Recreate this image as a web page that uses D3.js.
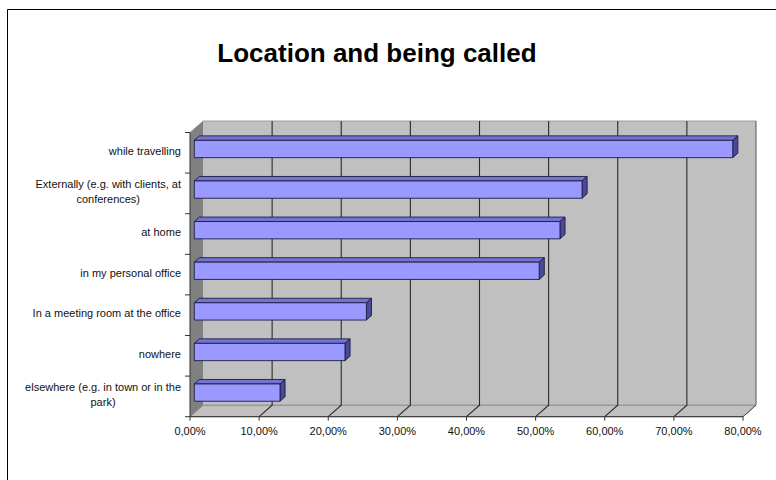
<!DOCTYPE html>
<html>
<head>
<meta charset="utf-8">
<title>Location and being called</title>
<script src="https://cdn.jsdelivr.net/npm/d3@7"></script>
<style>
  html, body { margin: 0; padding: 0; background: #ffffff; }
  svg { display: block; font-family: Arial, "Liberation Sans", sans-serif; }
</style>
</head>
<body>
<div id="chart"></div>
<script>
// data
var categories = [
  "while travelling",
  "Externally (e.g. with clients, at conferences)",
  "at home",
  "in my personal office",
  "In a meeting room at the office",
  "nowhere",
  "elsewhere (e.g. in town or in the park)"
];
var shares = [0.779, 0.561, 0.529, 0.499, 0.249, 0.218, 0.124];
var tickValues = [0, 0.1, 0.2, 0.3, 0.4, 0.5, 0.6, 0.7, 0.8];
var title = "Location and being called";

(function() {
  "use strict";

  var width = 776, height = 480;

  var svg = d3.select("#chart").append("svg")
      .attr("width", width)
      .attr("height", height);

  // outer border (only top and left edges fall inside the window)
  svg.append("path")
      .attr("d", "M7.5," + height + "V9.5H" + width)
      .attr("fill", "none")
      .attr("stroke", "#000");

  svg.append("text")
      .attr("x", 377)
      .attr("y", 62)
      .attr("text-anchor", "middle")
      .attr("font-size", 26)
      .attr("font-weight", "bold")
      .attr("fill", "#000")
      .text(title);

  // front plane scales
  var x = d3.scaleLinear().domain([0, 0.8]).range([190, 743]);
  var y = d3.scaleBand().domain(categories)
      .range([132.5, 416.7])
      .paddingInner(0.574)
      .paddingOuter(0.287);

  var top = y.range()[0], bottom = y.range()[1];
  var dx = 13, dy = -11.5; // depth of the 3d box
  var f0 = 0.33, f1 = 0.72; // bar front / back position within the depth

  function pts(a) { return a.map(function(p) { return p.join(","); }).join(" "); }

  var x0 = x(0), x1 = x(0.8);

  // back wall
  svg.append("rect")
      .attr("x", x0 + dx).attr("y", top + dy)
      .attr("width", x1 - x0).attr("height", bottom - top)
      .attr("fill", "#c0c0c0");

  // left wall
  svg.append("polygon")
      .attr("points", pts([[x0, top], [x0 + dx, top + dy], [x0 + dx, bottom + dy], [x0, bottom]]))
      .attr("fill", "#808080");

  // floor
  svg.append("polygon")
      .attr("points", pts([[x0, bottom], [x1, bottom], [x1 + dx, bottom + dy], [x0 + dx, bottom + dy]]))
      .attr("fill", "#c0c0c0")
      .attr("stroke", "#808080")
      .attr("stroke-width", 1);

  // wall edges
  svg.append("path")
      .attr("d", "M" + x0 + "," + top + "L" + (x0 + dx) + "," + (top + dy) + "H" + (x1 + dx))
      .attr("fill", "none").attr("stroke", "#a0a0a0");
  svg.append("path")
      .attr("d", "M" + (x1 + dx) + "," + (top + dy) + "V" + (bottom + dy) + "L" + x1 + "," + bottom)
      .attr("fill", "none").attr("stroke", "#555");

  // gridlines: up the back wall and across the floor
  svg.append("g").selectAll("path")
      .data(tickValues.slice(1, -1))
      .enter().append("path")
      .attr("d", function(d) {
        return "M" + (x(d) + dx) + "," + (top + dy) + "V" + (bottom + dy) + "L" + x(d) + "," + bottom;
      })
      .attr("fill", "none")
      .attr("stroke", "#2a2a2a")
      .attr("stroke-width", 1.1);

  // axes lines and ticks
  svg.append("path")
      .attr("d", "M" + x0 + "," + top + "V" + bottom + "H" + x1)
      .attr("fill", "none").attr("stroke", "#333");

  var bounds = categories.map(function(c) { return y(c) - y.step() * y.paddingInner() / 2; });
  bounds.push(bottom);
  svg.append("g").selectAll("line")
      .data(bounds)
      .enter().append("line")
      .attr("x1", x0 - 5).attr("x2", x0)
      .attr("y1", function(d) { return d; }).attr("y2", function(d) { return d; })
      .attr("stroke", "#333");

  svg.append("g").selectAll("line")
      .data(tickValues)
      .enter().append("line")
      .attr("x1", function(d) { return x(d); }).attr("x2", function(d) { return x(d); })
      .attr("y1", bottom).attr("y2", bottom + 4)
      .attr("stroke", "#333");

  var fmt = d3.formatLocale({ decimal: ",", thousands: ".", grouping: [3], currency: ["", "€"] }).format(".2%");
  svg.append("g").selectAll("text")
      .data(tickValues)
      .enter().append("text")
      .attr("x", function(d) { return x(d); })
      .attr("y", 435)
      .attr("text-anchor", "middle")
      .attr("font-size", 11)
      .attr("fill", "#111")
      .text(fmt);

  // bars
  var bfx = dx * f0, bfy = dy * f0;
  var bdx = dx * (f1 - f0), bdy = dy * (f1 - f0);
  var bars = svg.append("g").selectAll("g")
      .data(categories)
      .enter().append("g");

  bars.each(function(c, i) {
    var g = d3.select(this);
    var l = x(0) + bfx, r = x(shares[i]) + bfx;
    var t = y(c) + bfy, b = t + y.bandwidth();
    // top face
    g.append("polygon")
        .attr("points", pts([[l, t], [r, t], [r + bdx, t + bdy], [l + bdx, t + bdy]]))
        .attr("fill", "#7474d0");
    // end face
    g.append("polygon")
        .attr("points", pts([[r, t], [r + bdx, t + bdy], [r + bdx, b + bdy], [r, b]]))
        .attr("fill", "#4a4a96");
    // front face
    g.append("rect")
        .attr("x", l).attr("y", t)
        .attr("width", r - l).attr("height", b - t)
        .attr("fill", "#9999ff");
    g.selectAll("polygon, rect")
        .attr("stroke", "#1c1c44")
        .attr("stroke-width", 0.9)
        .attr("stroke-linejoin", "round");
  });

  // category labels, wrapped like the original
  var labels = svg.append("g").selectAll("text")
      .data(categories)
      .enter().append("text")
      .attr("font-size", 11)
      .attr("fill", "#111");

  labels.each(function(c) {
    var text = d3.select(this);
    var words = c.split(" "), lines = [], line = [];
    var probe = text.append("tspan");
    words.forEach(function(w) {
      line.push(w);
      probe.text(line.join(" "));
      if (probe.node().getComputedTextLength() > 163 && line.length > 1) {
        line.pop();
        lines.push(line.join(" "));
        line = [w];
      }
    });
    lines.push(line.join(" "));
    var maxW = 0;
    lines.forEach(function(s) {
      probe.text(s);
      maxW = Math.max(maxW, probe.node().getComputedTextLength());
    });
    probe.remove();

    var cy = y(c) + y.bandwidth() / 2 + 2;
    var first = cy - (lines.length - 1) * 7.5;
    if (lines.length === 1) {
      text.attr("text-anchor", "end").attr("x", 181).attr("y", cy).text(c);
    } else {
      text.attr("text-anchor", "middle");
      lines.forEach(function(s, k) {
        text.append("tspan")
            .attr("x", 181 - maxW / 2)
            .attr("y", first + k * 15)
            .text(s);
      });
    }
  });
})();
</script>
</body>
</html>
